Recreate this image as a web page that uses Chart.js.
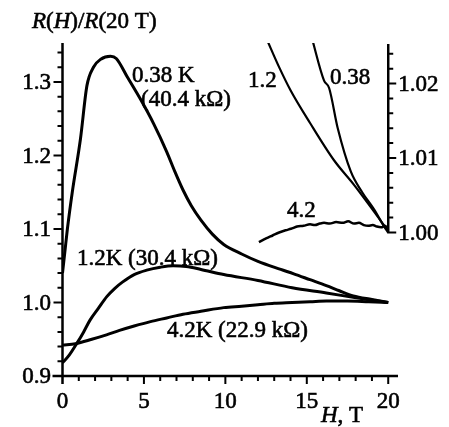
<!DOCTYPE html>
<html>
<head>
<meta charset="utf-8">
<script src="https://cdn.jsdelivr.net/npm/chart.js@4.4.0/dist/chart.umd.min.js"></script>
<style>
  html, body { margin: 0; padding: 0; background: #fff; }
  #wrap { width: 449px; height: 427px; }
</style>
</head>
<body>
<div id="wrap"><canvas id="chart" width="449" height="427"></canvas></div>
<script>
// main panel, R(H)/R(20 T) on the left axis
const h038 = [0, 0.15, 0.3, 0.6, 1.1, 1.5, 1.9, 2.35, 2.95, 3.3, 4.0, 4.8, 5.6, 6.4, 6.9, 7.4, 7.9, 8.5, 9.2, 9.9, 11.0, 12.0, 13.4, 14.2, 15.2, 16.2, 17.0, 17.85, 19.0, 20];
const r038 = [1.040, 1.070, 1.100, 1.150, 1.222, 1.295, 1.320, 1.331, 1.335, 1.332, 1.306, 1.276, 1.243, 1.205, 1.178, 1.153, 1.132, 1.112, 1.093, 1.079, 1.066, 1.056, 1.045, 1.039, 1.031, 1.023, 1.016, 1.009, 1.004, 1.000];

const h12 = [0, 0.4, 0.87, 1.3, 1.69, 2.2, 2.72, 3.2, 3.7, 4.4, 5.17, 6.0, 6.8, 7.6, 8.5, 9.9, 12.0, 14.1, 16.2, 17.85, 19.0, 20];
const r12 = [0.918, 0.928, 0.944, 0.960, 0.976, 0.992, 1.008, 1.019, 1.028, 1.038, 1.044, 1.048, 1.050, 1.049, 1.045, 1.038, 1.030, 1.020, 1.013, 1.007, 1.003, 1.000];

const h42 = [0, 0.8, 1.8, 2.7, 3.5, 4.4, 5.4, 6.4, 7.4, 8.5, 9.9, 11, 12, 13, 14.1, 15.2, 16.2, 17.5, 18.8, 20];
const r42 = [0.942, 0.944, 0.950, 0.956, 0.962, 0.968, 0.974, 0.979, 0.984, 0.988, 0.993, 0.995, 0.997, 0.999, 1.000, 1.001, 1.002, 1.002, 1.001, 1.000];

// inset, right axis
const hIn038 = [15.3, 16.06, 16.37, 16.9, 17.7, 18.4, 19.13, 19.75, 20];
const rIn038 = [1.0262, 1.0204, 1.0194, 1.0140, 1.0082, 1.0054, 1.0031, 1.0008, 1.0000];

const hIn12 = [12.55, 13.3, 14.0, 15.2, 16.67, 17.9, 19.13, 20];
const rIn12 = [1.0259, 1.0222, 1.0191, 1.0147, 1.0097, 1.0064, 1.0028, 1.0002];

const hIn42 = [12.06, 12.5, 12.9, 13.3, 13.7, 14.03, 14.4, 14.8, 15.2, 15.5, 15.8, 16.06, 16.4, 16.8, 17.2, 17.54, 17.9, 18.2, 18.5, 18.77, 19.05, 19.3, 19.57, 19.8, 20];
const rIn42 = [0.9987, 0.9992, 0.9996, 1.0000, 1.0003, 1.0005, 1.0008, 1.0009, 1.0011, 1.0010, 1.0012, 1.0013, 1.0012, 1.0014, 1.0013, 1.0015, 1.0012, 1.0013, 1.0010, 1.0009, 1.0010, 1.0008, 1.0007, 1.0009, 1.0003];

const xTicks = [0, 5, 10, 15, 20];
const yTicks = [0.9, 1.0, 1.1, 1.2, 1.3];
const y2Ticks = [1.00, 1.01, 1.02];

const pts = (xs, ys) => xs.map((x, i) => ({ x: x, y: ys[i] }));
const FONT = "'Liberation Serif', 'DejaVu Serif', serif";
const SIZE = 23;

function line(data, axis, width) {
  return {
    data: data,
    yAxisID: axis,
    borderColor: "#000",
    borderWidth: width,
    pointRadius: 0,
    fill: false,
    cubicInterpolationMode: "monotone"
  };
}

// text a bit heavier, like the printed figure
function txt(ctx, t, x, y) {
  ctx.fillText(t, x, y);
  ctx.strokeText(t, x, y);
}

function rich(ctx, parts, x, y) {
  let cx = x;
  parts.forEach(([t, it]) => {
    ctx.font = (it ? "italic " : "") + SIZE + "px " + FONT;
    txt(ctx, t, cx, y);
    cx += ctx.measureText(t).width;
  });
}

const decor = {
  id: "decor",
  afterDraw(chart) {
    const ctx = chart.ctx;
    const xs = chart.scales.x, ys = chart.scales.y, y2 = chart.scales.y2;
    const a = chart.chartArea;
    const x0 = xs.getPixelForValue(0);
    const yb = ys.getPixelForValue(0.9);
    ctx.save();
    ctx.strokeStyle = "#000";
    ctx.fillStyle = "#000";
    ctx.lineCap = "butt";

    // axes
    ctx.lineWidth = 2.5;
    ctx.beginPath();
    ctx.moveTo(x0, a.top);
    ctx.lineTo(x0, yb + 8);
    ctx.moveTo(x0 - 10, yb);
    ctx.lineTo(a.right, yb);
    ctx.stroke();

    ctx.lineWidth = 2;
    ctx.beginPath();
    for (let i = 0; i <= 22; i++) {
      const p = ys.getPixelForValue(0.9 + i * 0.02);
      const len = i % 5 === 0 ? 9 : 5;
      ctx.moveTo(x0, p);
      ctx.lineTo(x0 - len, p);
    }
    for (let i = 1; i <= 20; i++) {
      const p = xs.getPixelForValue(i);
      const len = i % 5 === 0 ? 8 : 5;
      ctx.moveTo(p, yb);
      ctx.lineTo(p, yb + len);
    }
    ctx.stroke();

    // inset axis on the right
    const xr = xs.getPixelForValue(20);
    ctx.lineWidth = 2.5;
    ctx.beginPath();
    ctx.moveTo(xr, a.top + 1);
    ctx.lineTo(xr, y2.getPixelForValue(1.0));
    ctx.stroke();
    ctx.lineWidth = 2;
    ctx.beginPath();
    for (let i = 0; i <= 12; i++) {
      const p = y2.getPixelForValue(1 + i * 0.002);
      const len = i % 5 === 0 ? 8 : 5;
      ctx.moveTo(xr - 1, p);
      ctx.lineTo(xr + len, p);
    }
    ctx.stroke();

    ctx.lineWidth = 0.6;
    ctx.font = SIZE + "px " + FONT;

    // tick labels
    ctx.textBaseline = "middle";
    ctx.textAlign = "right";
    yTicks.forEach(v => txt(ctx, v.toFixed(1), 51, ys.getPixelForValue(v) + 1));
    ctx.textAlign = "left";
    y2Ticks.forEach(v => txt(ctx, v.toFixed(2), xr + 10, y2.getPixelForValue(v) + 1));
    ctx.textBaseline = "alphabetic";
    ctx.textAlign = "center";
    xTicks.forEach(v => txt(ctx, String(v), xs.getPixelForValue(v), 408));

    // curve labels
    ctx.textAlign = "left";
    txt(ctx, "0.38 K", 132, 82);
    txt(ctx, "(40.4 k\u03A9)", 141, 106);
    txt(ctx, "1.2K (30.4 k\u03A9)", 77, 265);
    txt(ctx, "4.2K (22.9 k\u03A9)", 167, 337);
    txt(ctx, "1.2", 248, 87);
    txt(ctx, "0.38", 330, 84);
    txt(ctx, "4.2", 287, 217);

    rich(ctx, [["R", true], ["(", false], ["H", true], [")/", false], ["R", true], ["(20 T)", false]], 32, 28);
    rich(ctx, [["H", true], [", T", false]], 321, 422);
    ctx.restore();
  }
};

new Chart(document.getElementById("chart"), {
  type: "line",
  data: {
    datasets: [
      line(pts(h038, r038), "y", 3),
      line(pts(h12, r12), "y", 3),
      line(pts(h42, r42), "y", 3),
      line(pts(hIn038, rIn038), "y2", 2.2),
      line(pts(hIn12, rIn12), "y2", 2.2),
      line(pts(hIn42, rIn42), "y2", 2.5)
    ]
  },
  options: {
    responsive: false,
    animation: false,
    layout: { padding: { top: 43, right: 51, bottom: 0, left: 0 } },
    plugins: { legend: { display: false }, tooltip: { enabled: false } },
    scales: {
      x: {
        type: "linear",
        min: 0,
        max: 20.6,
        afterFit: s => { s.height = 51; },
        border: { display: false },
        grid: { display: false, drawTicks: false },
        ticks: { display: false }
      },
      y: {
        min: 0.9,
        max: 1.353,
        afterFit: s => { s.width = 62.5; },
        border: { display: false },
        grid: { display: false, drawTicks: false },
        ticks: { display: false }
      },
      y2: {
        display: false,
        min: 0.98074,
        max: 1.02544
      }
    }
  },
  plugins: [decor]
});
</script>
</body>
</html>
